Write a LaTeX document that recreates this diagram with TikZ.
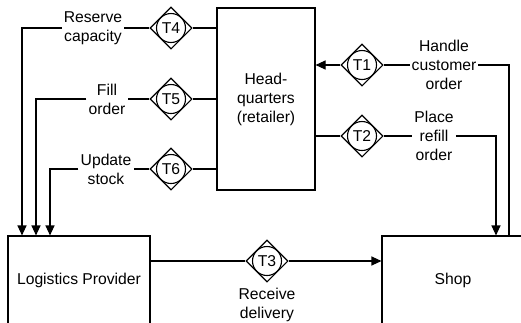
\documentclass[tikz,border=0pt]{standalone}
\usepackage{fontspec}
\setmainfont{Liberation Sans}
\usetikzlibrary{shapes.geometric,arrows.meta,positioning}

\begin{document}
\begin{tikzpicture}[
    x=1pt, y=-1pt,
    every node/.style={font=\fontsize{15.7}{19}\selectfont},
    actor/.style={rectangle, draw, line width=1.1pt, align=center, inner sep=0pt},
    trans/.style={diamond, draw, line width=1.1pt, inner sep=0pt,
                  minimum width=42pt, minimum height=42pt,
                  path picture={\draw[line width=1.1pt]
                      (path picture bounding box.center) circle (14.5pt);}},
    lbl/.style={align=center, inner sep=2pt},
    flow/.style={line width=1.1pt},
    >={Triangle[length=10pt, width=9pt]}
]
    \useasboundingbox (0,0) rectangle (521,322);
    \clip (0,0) rectangle (521,322);

    % Actor boxes
    \node[actor, minimum width=98pt, minimum height=182pt] (hq) at (266,99)
        {Head-\\quarters\\(retailer)};
    \node[actor, minimum width=142pt, minimum height=88pt] (lp) at (79,280)
        {Logistics Provider};
    \node[actor, minimum width=142pt, minimum height=88pt] (shop) at (453,280)
        {Shop};

    % Transactions
    \node[trans] (t1) at (362,65)  {T1};
    \node[trans] (t2) at (362,136) {T2};
    \node[trans] (t3) at (267,261) {T3};
    \node[trans] (t4) at (171,28)  {T4};
    \node[trans] (t5) at (171,99)  {T5};
    \node[trans] (t6) at (171,169) {T6};

    % Transaction labels
    \node[lbl] (l1) at (444,65)  {Handle\\customer\\order};
    \node[lbl] (l2) at (434,136) {Place\\refill\\order};
    \node[lbl, below=3pt of t3] (l3) {Receive\\delivery};
    \node[lbl] (l4) at (93,28)   {Reserve\\capacity};
    \node[lbl] (l5) at (107,99)  {Fill\\order};
    \node[lbl] (l6) at (106,169) {Update\\stock};

    % Bend points
    \coordinate (k1) at (509,65);
    \coordinate (k2) at (496,136);
    \coordinate (k4) at (22,28);
    \coordinate (k5) at (36,99);
    \coordinate (k6) at (50,169);

    % Shop -> HQ
    \draw[flow] (k1 |- shop.north) -- (k1) -- (l1.east);
    \draw[flow] (l1.west) -- (t1.east);
    \draw[flow, ->] (t1.west) -- (t1.west -| hq.east);

    % HQ -> Shop
    \draw[flow] (t2.west -| hq.east) -- (t2.west);
    \draw[flow] (t2.east) -- (l2.west);
    \draw[flow, ->] (l2.east) -| (k2 |- shop.north);

    % Logistics Provider -> Shop
    \draw[flow] (lp.east |- t3) -- (t3.west);
    \draw[flow, ->] (t3.east) -- (t3 -| shop.west);

    % HQ -> Logistics Provider
    \draw[flow] (t4.east -| hq.west) -- (t4.east);
    \draw[flow] (t4.west) -- (l4.east);
    \draw[flow, ->] (l4.west) -| (k4 |- lp.north);

    \draw[flow] (t5.east -| hq.west) -- (t5.east);
    \draw[flow] (t5.west) -- (l5.east);
    \draw[flow, ->] (l5.west) -| (k5 |- lp.north);

    \draw[flow] (t6.east -| hq.west) -- (t6.east);
    \draw[flow] (t6.west) -- (l6.east);
    \draw[flow, ->] (l6.west) -| (k6 |- lp.north);

\end{tikzpicture}
\end{document}
